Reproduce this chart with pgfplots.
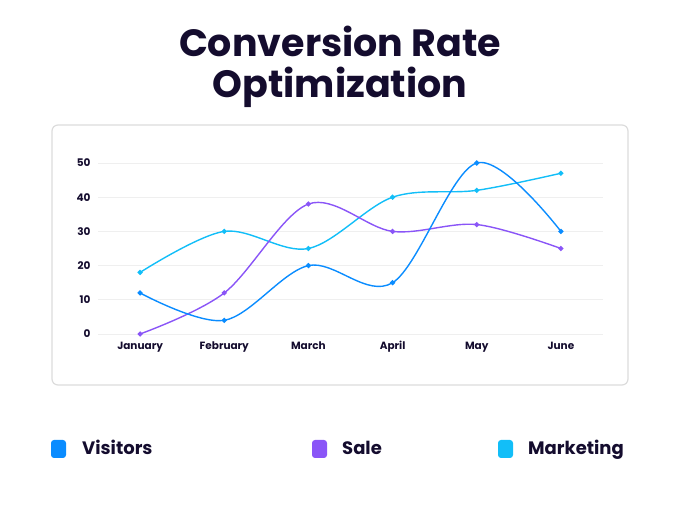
\documentclass[border=0pt]{standalone}
\usepackage{pgfplots}
\pgfplotsset{compat=1.18}
\usepackage{fontspec}
\setmainfont{Poppins}
\definecolor{txt}{HTML}{140C2E}
\definecolor{visc}{HTML}{0A8CFF}
\definecolor{salec}{HTML}{8A55F7}
\definecolor{mktc}{HTML}{12BEF8}
\definecolor{gridc}{HTML}{EFEFEF}
\definecolor{boxc}{HTML}{DCDCDC}
\begin{document}
\begin{tikzpicture}[x=1pt,y=1pt]
\path[use as bounding box] (0,0) rectangle (680,510);
\node[font=\bfseries\fontsize{38}{41}\selectfont, text=txt, align=center] at (340,443) {Conversion Rate\\Optimization};
\draw[boxc, line width=1.2pt, rounded corners=6pt] (52,125) rectangle (628,385);
\begin{axis}[at={(98pt,176pt)}, anchor=south west, scale only axis,
  width=505pt, height=171pt, xmin=-0.5, xmax=5.5, ymin=0, ymax=50,
  axis line style={draw=none}, major tick length=0pt,
  ytick={0,10,...,50}, xtick={0,...,5},
  xticklabels={January,February,March,April,May,June},
  ymajorgrids, grid style={gridc, line width=0.8pt},
  tick label style={font=\bfseries\fontsize{10.5}{12}\selectfont, text=txt},
  xticklabel style={text height=8pt, text depth=2.5pt, yshift=-4pt},
  yticklabel style={xshift=-4pt},
  /pgf/number format/assume math mode=true,
  clip=false]
\addplot[mktc, line width=1.4pt, smooth, tension=0.55, mark=*, mark size=1.8pt] coordinates {(0,18)(1,30)(2,25)(3,40)(4,42)(5,47)};
\addplot[salec, line width=1.4pt, smooth, tension=0.55, mark=*, mark size=1.8pt] coordinates {(0,0)(1,12)(2,38)(3,30)(4,32)(5,25)};
\addplot[visc, line width=1.4pt, smooth, tension=0.55, mark=*, mark size=1.8pt] coordinates {(0,12)(1,4)(2,20)(3,15)(4,50)(5,30)};
\end{axis}
\fill[visc, rounded corners=3pt] (51,52) rectangle (66,70);
\node[anchor=base west, font=\bfseries\fontsize{18}{20}\selectfont, text=txt, inner sep=0pt] at (82,55) {Visitors};
\fill[salec, rounded corners=3pt] (312,52) rectangle (327,70);
\node[anchor=base west, font=\bfseries\fontsize{18}{20}\selectfont, text=txt, inner sep=0pt] at (342,55) {Sale};
\fill[mktc, rounded corners=3pt] (498,52) rectangle (513,70);
\node[anchor=base west, font=\bfseries\fontsize{18}{20}\selectfont, text=txt, inner sep=0pt] at (528,55) {Marketing};
\end{tikzpicture}
\end{document}
